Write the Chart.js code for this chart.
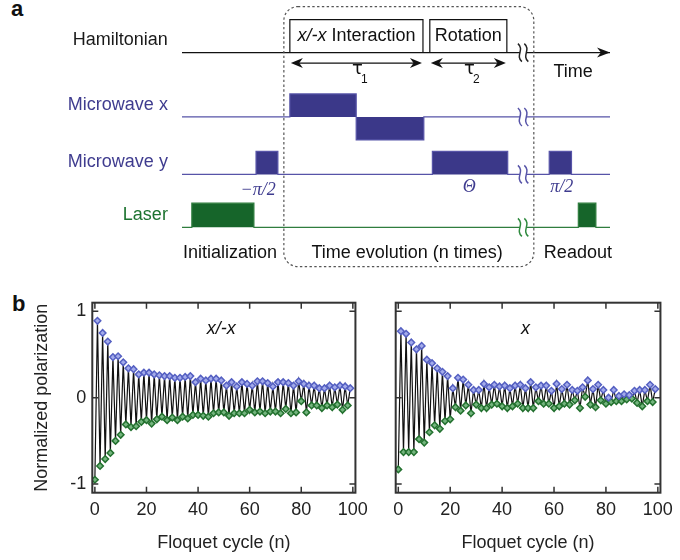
<!DOCTYPE html>
<html>
<head>
<meta charset="utf-8">
<script src="https://cdn.jsdelivr.net/npm/chart.js@4.4.1/dist/chart.umd.min.js"></script>
<style>
  html, body { margin: 0; background: #fff; }
  #fig { position: relative; width: 680px; height: 560px; overflow: hidden; font-family: "Liberation Sans", Arial, sans-serif; }
  #fig canvas { position: absolute; }
  .tag { position: absolute; font-weight: bold; font-size: 22px; color: #111; line-height: 1; }
</style>
</head>
<body>
<div id="fig">
  <div class="tag" style="left:11px;top:-2px">a</div>
  <div class="tag" style="left:12px;top:293px">b</div>
  <canvas id="seq" width="680" height="275" style="left:0;top:0"></canvas>
  <canvas id="left" width="375" height="280" style="left:0;top:280px"></canvas>
  <canvas id="right" width="305" height="280" style="left:375px;top:280px"></canvas>
</div>
<script>
/* ── Panel a: pulse sequence (time in arbitrary units 0–100) ── */
const rowNames   = ['Hamiltonian', 'Microwave x', 'Microwave y', 'Laser'];
const rowBase    = [7.6, 4.8, 2.3, 0];
const mwxPulses  = [[25.2, 40.7, 1], [40.7, 56.5, -1]];
const mwyPulses  = [[17.3, 22.4, 1], [58.5, 76.1, 1], [85.8, 91.0, 1]];
const laserPulses = [[2.3, 16.8, 1.05], [92.6, 96.7, 1.05]];
const hamBoxes   = [['x/-x', ' Interaction', 25.2, 56.3], ['', 'Rotation', 57.9, 75.9]];
const hamBoxH    = 1.43;
const durations  = [['1', 25.2, 56.3], ['2', 57.9, 75.9]];
const pulseLabels = [['−π/2', 17.8], ['Θ', 67.1], ['π/2', 88.7]];
const stageLabels = [['Initialization', 11.2], ['Time evolution (n times)', 52.6], ['Readout', 92.5]];
const breakAt    = 79.7;
const repeatBox  = [23.8, 82.2, -1.71, 9.6];

/* ── Panel b: normalized polarization vs Floquet cycle ── */
const xTicks = [0, 20, 40, 60, 80, 100];
const yTicks = [-1, 0, 1];
// odd cycles (n = 1, 3, ... 99)
const xmxUpper = [0.89, 0.75, 0.65, 0.47, 0.48, 0.41, 0.34, 0.33, 0.27, 0.29,
                  0.29, 0.27, 0.26, 0.25, 0.25, 0.23, 0.23, 0.24, 0.25, 0.18,
                  0.22, 0.20, 0.22, 0.22, 0.20, 0.14, 0.18, 0.13, 0.18, 0.16,
                  0.14, 0.19, 0.19, 0.17, 0.13, 0.18, 0.18, 0.17, 0.14, 0.19,
                  0.16, 0.14, 0.14, 0.11, 0.11, 0.14, 0.12, 0.14, 0.13, 0.11];
// even cycles (n = 0, 2, ... 98)
const xmxLower = [-0.95, -0.79, -0.71, -0.64, -0.50, -0.43, -0.31, -0.34, -0.33, -0.28,
                  -0.26, -0.30, -0.25, -0.22, -0.26, -0.23, -0.26, -0.22, -0.24, -0.20,
                  -0.20, -0.21, -0.22, -0.18, -0.17, -0.17, -0.21, -0.18, -0.18, -0.18,
                  -0.14, -0.17, -0.16, -0.18, -0.16, -0.16, -0.18, -0.13, -0.18, -0.17,
                  -0.04, -0.17, -0.09, -0.09, -0.12, -0.09, -0.11, -0.08, -0.14, -0.09];
const xUpper = [0.77, 0.74, 0.64, 0.56, 0.60, 0.44, 0.40, 0.34, 0.30, 0.25,
                0.11, 0.23, 0.21, 0.15, 0.09, 0.09, 0.16, 0.12, 0.15, 0.13,
                0.14, 0.11, 0.14, 0.15, 0.11, 0.18, 0.12, 0.14, 0.14, 0.08,
                0.16, 0.10, 0.15, 0.09, 0.08, 0.12, 0.20, 0.10, 0.15, 0.09,
                0.00, 0.09, 0.02, 0.04, 0.03, 0.08, 0.09, 0.09, 0.15, 0.10];
const xLower = [-0.83, -0.63, -0.63, -0.63, -0.48, -0.52, -0.40, -0.32, -0.36, -0.27,
                -0.25, -0.11, -0.15, -0.09, -0.18, -0.08, -0.12, -0.12, -0.08, -0.07,
                -0.10, -0.12, -0.10, -0.07, -0.12, -0.12, -0.12, -0.04, -0.07, -0.07,
                -0.12, -0.10, -0.07, -0.08, -0.03, -0.12, 0.01, -0.08, -0.11, -0.03,
                -0.07, -0.05, -0.04, -0.04, -0.02, -0.01, -0.06, -0.10, -0.04, -0.05];

const FONT = '"Liberation Sans", Arial, sans-serif';
const SERIF = '"Liberation Serif", "DejaVu Serif", serif';
const INK = '#1a1a1a';
const MW_FILL = '#3b3889', MW_LINE = '#5754a8', MW_TEXT = '#3f3c8f';
const LS_FILL = '#16652a', LS_LINE = '#2f7d3e', LS_TEXT = '#1d7330';
const rowColors = [INK, MW_TEXT, MW_TEXT, LS_TEXT];
const breakColors = ['#222', MW_LINE, MW_LINE, '#2f8a3e'];

/* ── Helpers ── */
function wave(base, pulses) {
  const pts = [{ x: 0, y: base }];
  pulses.forEach(([t0, t1, h]) => pts.push({ x: t0, y: base }, { x: t0, y: base + h }, { x: t1, y: base + h }, { x: t1, y: base }));
  pts.push({ x: 100, y: base });
  return pts;
}
function boxPts(t0, t1, base) {
  return [{ x: t0, y: base }, { x: t0, y: base + hamBoxH }, { x: t1, y: base + hamBoxH }, { x: t1, y: base }];
}
function arrowHead(ctx, tipX, tipY, dir, len, half) {
  ctx.beginPath();
  ctx.moveTo(tipX, tipY);
  ctx.lineTo(tipX - dir * len, tipY - half);
  ctx.lineTo(tipX - dir * len * 0.7, tipY);
  ctx.lineTo(tipX - dir * len, tipY + half);
  ctx.closePath(); ctx.fill();
}

/* ── Panel a decorations ── */
const seqDecor = {
  id: 'seqDecor',
  afterDatasetsDraw(chart) {
    const { ctx, scales: { x, y } } = chart;
    const X = t => x.getPixelForValue(t), Y = v => y.getPixelForValue(v);
    ctx.save();

    // repeated block
    ctx.setLineDash([2.4, 2.4]); ctx.strokeStyle = '#555'; ctx.lineWidth = 1.2;
    ctx.beginPath();
    ctx.roundRect(X(repeatBox[0]), Y(repeatBox[3]), X(repeatBox[1]) - X(repeatBox[0]), Y(repeatBox[2]) - Y(repeatBox[3]), 14);
    ctx.stroke(); ctx.setLineDash([]);

    // time arrow head
    ctx.fillStyle = '#111';
    arrowHead(ctx, X(100), Y(rowBase[0]), 1, 13, 5);

    // durations
    const ay = Y(rowBase[0]) + 10.5;
    ctx.strokeStyle = '#111'; ctx.lineWidth = 1.3;
    durations.forEach(([sub, t0, t1]) => {
      const a = X(t0) + 1, b = X(t1) - 1;
      ctx.beginPath(); ctx.moveTo(a + 4, ay); ctx.lineTo(b - 4, ay); ctx.stroke();
      arrowHead(ctx, a, ay, -1, 12, 5); arrowHead(ctx, b, ay, 1, 12, 5);
      const mid = (a + b) / 2;
      ctx.textAlign = 'center'; ctx.textBaseline = 'middle';
      ctx.font = '18px "DejaVu Sans", sans-serif'; ctx.fillText('τ', mid + 1, Y(6.86));
      ctx.font = `12px ${FONT}`; ctx.fillText(sub, mid + 8, Y(6.42));
    });

    // breaks
    const bx = X(breakAt);
    rowBase.forEach((b, i) => {
      const py = Y(b);
      ctx.fillStyle = '#fff'; ctx.fillRect(bx - 3, py - 2, 6, 4);
      ctx.strokeStyle = breakColors[i]; ctx.lineWidth = 1.5;
      [-3.2, 3.2].forEach(off => {
        ctx.beginPath();
        ctx.moveTo(bx + off - 2, py - 9);
        ctx.bezierCurveTo(bx + off + 5, py - 3, bx + off - 5, py + 3, bx + off + 2, py + 9);
        ctx.stroke();
      });
    });

    // row labels
    ctx.font = `18px ${FONT}`; ctx.textAlign = 'right'; ctx.textBaseline = 'middle';
    rowNames.forEach((n, i) => { ctx.fillStyle = rowColors[i]; ctx.fillText(n, X(-3.3), Y(rowBase[i] + 0.53)); });

    // hamiltonian boxes
    ctx.fillStyle = '#111'; ctx.textAlign = 'left';
    hamBoxes.forEach(([it, rest, t0, t1]) => {
      ctx.font = `italic 18px ${FONT}`; const w1 = ctx.measureText(it).width;
      ctx.font = `18px ${FONT}`; const w2 = ctx.measureText(rest).width;
      const start = (X(t0) + X(t1)) / 2 - (w1 + w2) / 2, py = Y(rowBase[0] + hamBoxH / 2);
      ctx.font = `italic 18px ${FONT}`; ctx.fillText(it, start, py);
      ctx.font = `18px ${FONT}`; ctx.fillText(rest, start + w1, py);
    });

    // time + stage labels
    ctx.textAlign = 'center'; ctx.fillStyle = '#111';
    ctx.fillText('Time', X(91.4), Y(6.75));
    stageLabels.forEach(([s, t]) => ctx.fillText(s, X(t), Y(-1.12)));

    // pulse angles
    ctx.font = `italic 18px ${SERIF}`; ctx.fillStyle = MW_TEXT;
    pulseLabels.forEach(([s, t], i) => ctx.fillText(s, X(t), Y(i ? 1.75 : 1.62)));
    ctx.restore();
  }
};

new Chart(document.getElementById('seq'), {
  type: 'line',
  data: {
    datasets: [
      { data: wave(rowBase[0], []), borderColor: '#111', borderWidth: 1.3, pointRadius: 0, fill: false, clip: false },
      ...hamBoxes.map(b => ({ data: boxPts(b[2], b[3], rowBase[0]), borderColor: '#111', borderWidth: 1.2, pointRadius: 0, fill: false, clip: false })),
      { data: wave(rowBase[1], mwxPulses), borderColor: MW_LINE, backgroundColor: MW_FILL, borderWidth: 1.2, pointRadius: 0, fill: { value: rowBase[1] }, clip: false },
      { data: wave(rowBase[2], mwyPulses), borderColor: MW_LINE, backgroundColor: MW_FILL, borderWidth: 1.2, pointRadius: 0, fill: { value: rowBase[2] }, clip: false },
      { data: wave(rowBase[3], laserPulses), borderColor: LS_LINE, backgroundColor: LS_FILL, borderWidth: 1.2, pointRadius: 0, fill: { value: rowBase[3] }, clip: false }
    ]
  },
  options: {
    responsive: false, animation: false,
    layout: { padding: { left: 182, right: 70, top: 2, bottom: 4 } },
    plugins: { legend: { display: false }, tooltip: { enabled: false } },
    scales: {
      x: { type: 'linear', min: 0, max: 100, display: false },
      y: { type: 'linear', min: -1.9, max: 9.8, display: false }
    }
  },
  plugins: [seqDecor]
});

/* ── Panel b plugins ── */
const frameTicks = {
  id: 'frameTicks',
  afterDatasetsDraw(chart) {
    const { ctx, chartArea: a, scales: { x, y } } = chart;
    ctx.save();
    ctx.strokeStyle = '#333'; ctx.lineWidth = 1.5;
    ctx.beginPath();
    x.ticks.forEach(t => {
      const px = x.getPixelForValue(t.value);
      ctx.moveTo(px, a.bottom); ctx.lineTo(px, a.bottom - 6);
      ctx.moveTo(px, a.top); ctx.lineTo(px, a.top + 6);
    });
    y.ticks.forEach(t => {
      const py = y.getPixelForValue(t.value);
      ctx.moveTo(a.left, py); ctx.lineTo(a.left + 6, py);
      ctx.moveTo(a.right, py); ctx.lineTo(a.right - 6, py);
    });
    ctx.stroke();
    ctx.lineWidth = 2;
    ctx.strokeRect(a.left, a.top, a.right - a.left, a.bottom - a.top);
    ctx.restore();
  }
};
const inLabel = {
  id: 'inlabel',
  afterDraw(chart, args, opts) {
    const { ctx, scales: { x, y } } = chart;
    ctx.save();
    ctx.font = `italic 18px ${FONT}`; ctx.fillStyle = '#111';
    ctx.textAlign = 'center'; ctx.textBaseline = 'middle';
    ctx.fillText(opts.text, x.getPixelForValue(opts.at[0]), y.getPixelForValue(opts.at[1]));
    ctx.restore();
  }
};

function polarChart(id, upper, lower, label, withAxisText, padLeft, yWidth, padRight) {
  const trace = [];
  lower.forEach((v, i) => { trace.push({ x: 2 * i, y: v }); if (i < upper.length) trace.push({ x: 2 * i + 1, y: upper[i] }); });
  return new Chart(document.getElementById(id), {
    type: 'line',
    data: {
      datasets: [
        { data: upper.map((v, i) => ({ x: 2 * i + 1, y: v })), showLine: false, pointStyle: 'rectRot', pointRadius: 3.3,
          pointBorderWidth: 1.5, pointBackgroundColor: '#a3abeb', pointBorderColor: '#5560c2', order: 0 },
        { data: lower.map((v, i) => ({ x: 2 * i, y: v })), showLine: false, pointStyle: 'rectRot', pointRadius: 3.3,
          pointBorderWidth: 1.5, pointBackgroundColor: '#74b57e', pointBorderColor: '#23712f', order: 1 },
        { data: trace, borderColor: '#111', borderWidth: 1.2, pointRadius: 0, fill: false, order: 2 }
      ]
    },
    options: {
      responsive: false, animation: false,
      layout: { padding: { left: padLeft, right: padRight, top: 22.7, bottom: 0 } },
      plugins: { legend: { display: false }, tooltip: { enabled: false }, inlabel: { text: label, at: [49, 0.79] } },
      scales: {
        x: {
          type: 'linear', min: -1, max: 101,
          afterBuildTicks: s => { s.ticks = xTicks.map(v => ({ value: v })); },
          afterFit: s => { s.height = 67.3; },
          grid: { display: false, drawTicks: false }, border: { display: false },
          ticks: { color: '#222', font: { size: 18, family: FONT }, padding: 7, maxRotation: 0, autoSkip: false },
          title: { display: true, text: 'Floquet cycle (n)', color: '#222', font: { size: 18, family: FONT }, padding: { top: 0, bottom: 6 } }
        },
        y: {
          type: 'linear', min: -1.1, max: 1.1,
          afterBuildTicks: s => { s.ticks = yTicks.map(v => ({ value: v })); },
          afterFit: s => { s.width = yWidth; },
          grid: { display: false, drawTicks: false }, border: { display: false },
          ticks: { display: withAxisText, color: '#222', font: { size: 18, family: FONT }, padding: 6 },
          title: { display: withAxisText, text: 'Normalized polarization', color: '#222', font: { size: 18, family: FONT }, padding: { top: 1, bottom: 0 } }
        }
      }
    },
    plugins: [frameTicks, inLabel]
  });
}

polarChart('left', xmxUpper, xmxLower, 'x/-x', true, 30, 62.3, 14);
polarChart('right', xUpper, xLower, 'x', false, 0, 20.7, 14.3);
</script>
</body>
</html>
